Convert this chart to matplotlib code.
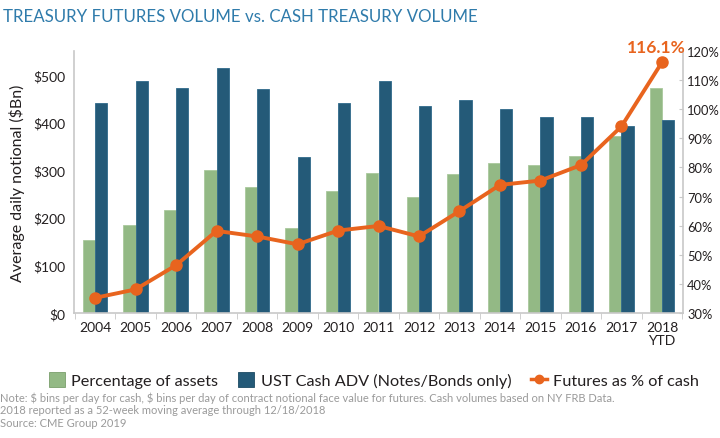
import matplotlib
matplotlib.use("Agg")
import matplotlib.pyplot as plt
import numpy as np
from matplotlib.lines import Line2D
from matplotlib.patches import Patch

years = ["2004", "2005", "2006", "2007", "2008", "2009", "2010", "2011",
         "2012", "2013", "2014", "2015", "2016", "2017", "2018\nYTD"]
green_vals = [153, 184, 217, 300, 265, 178, 256, 294, 244, 292, 315, 310, 329, 371, 472]
blue_vals = [440, 488, 472, 514, 470, 328, 440, 488, 434, 447, 428, 411, 412, 393, 405]
pct_vals = [35.2, 38.1, 46.4, 58.2, 56.3, 53.6, 58.3, 59.9, 56.3, 65.0, 74.0, 75.5, 80.8, 94.1, 116.1]
left_ticks = [0, 100, 200, 300, 400, 500]
right_ticks = [30, 40, 50, 60, 70, 80, 90, 100, 110, 120]

GREEN = "#93b985"
BLUE = "#245a78"
ORANGE = "#e8641e"
TITLE_C = "#2f7bab"
AX_C = "#c8c8c8"
TXT = "#231f20"

plt.rcParams['font.family'] = ['Lato', 'DejaVu Sans']
plt.rcParams['text.parse_math'] = False

fig = plt.figure(figsize=(7.2, 4.39), dpi=100)
ax = fig.add_axes([74/720, 1-314/439, 609/720, 262/439])
ax2 = ax.twinx()

x = np.arange(len(years))
w = 0.3
ax.bar(x - w/2, green_vals, w, color=GREEN, edgecolor="#a9c99c", linewidth=0.6, zorder=2)
ax.bar(x + w/2, blue_vals, w, color=BLUE, edgecolor="#2f6a8a", linewidth=0.6, zorder=2)
ax2.plot(x, pct_vals, color=ORANGE, lw=2.8, marker='o', ms=8, zorder=5)
ax2.text(x[-1] - 0.15, pct_vals[-1] + 2.5, "116.1%", color=ORANGE, fontsize=12.5,
         fontweight='bold', ha='center', va='bottom')

ax.set_xlim(-0.52, len(years) - 0.48)
ax.set_ylim(0, 550)
ax2.set_ylim(30, 120)

ax.set_yticks(left_ticks)
ax.set_yticklabels([f"${v}" for v in left_ticks], fontsize=10, color=TXT)
ax2.set_yticks(right_ticks)
ax2.set_yticklabels([f"{v}%" for v in right_ticks], fontsize=9.3, color=TXT)
ax.set_xticks(x)
ax.set_xticklabels(years, fontsize=10, color=TXT, linespacing=1.1)
ax.set_xticks(np.arange(-0.5, len(years)), minor=True)
ax.tick_params(axis='x', which='major', length=0, pad=6)
ax.tick_params(axis='x', which='minor', length=4, color=AX_C, direction='out')
ax.tick_params(axis='y', length=0, pad=6)
ax2.tick_params(axis='y', length=3, color=AX_C, direction='in', pad=3)

for a in (ax, ax2):
    a.spines['top'].set_visible(False)
    for s in ('left', 'right', 'bottom'):
        a.spines[s].set_color(AX_C)
        a.spines[s].set_linewidth(1.2)
ax.spines['right'].set_visible(False)
ax2.spines['left'].set_visible(False)
ax2.spines['bottom'].set_visible(False)

ax.set_ylabel("Average daily notional ($Bn)", fontsize=11.5, color=TXT, labelpad=6)

fig.text(3/720, 1-17/439, "TREASURY FUTURES VOLUME vs. CASH TREASURY VOLUME",
         fontsize=12.2, color=TITLE_C, ha='left', va='center')

handles = [Patch(facecolor=GREEN, edgecolor="#7a9f6c", linewidth=0.6),
           Patch(facecolor=BLUE, edgecolor="#1c4a63", linewidth=0.6),
           Line2D([0], [0], color=ORANGE, lw=2.5, marker='o', ms=6)]
labels = ["Percentage of assets", "UST Cash ADV (Notes/Bonds only)", "Futures as % of cash"]
leg = fig.legend(handles, labels, loc='center', bbox_to_anchor=(374/720, 1-381/439),
                 ncol=3, frameon=False, fontsize=11.7, handlelength=1.0, handleheight=1.0,
                 columnspacing=1.2, handletextpad=0.4)
for t in leg.get_texts():
    t.set_color(TXT)

notes = ["Note: $ bins per day for cash, $ bins per day of contract notional face value for futures. Cash volumes based on NY FRB Data.",
         "2018 reported as a 52-week moving average through 12/18/2018",
         "Source: CME Group 2019"]
for i, n in enumerate(notes):
    fig.text(0, 1-(398 + 13*i)/439, n, fontsize=8, color="#9a9a9a", ha='left', va='center')

fig.savefig("out.png", dpi=100)
